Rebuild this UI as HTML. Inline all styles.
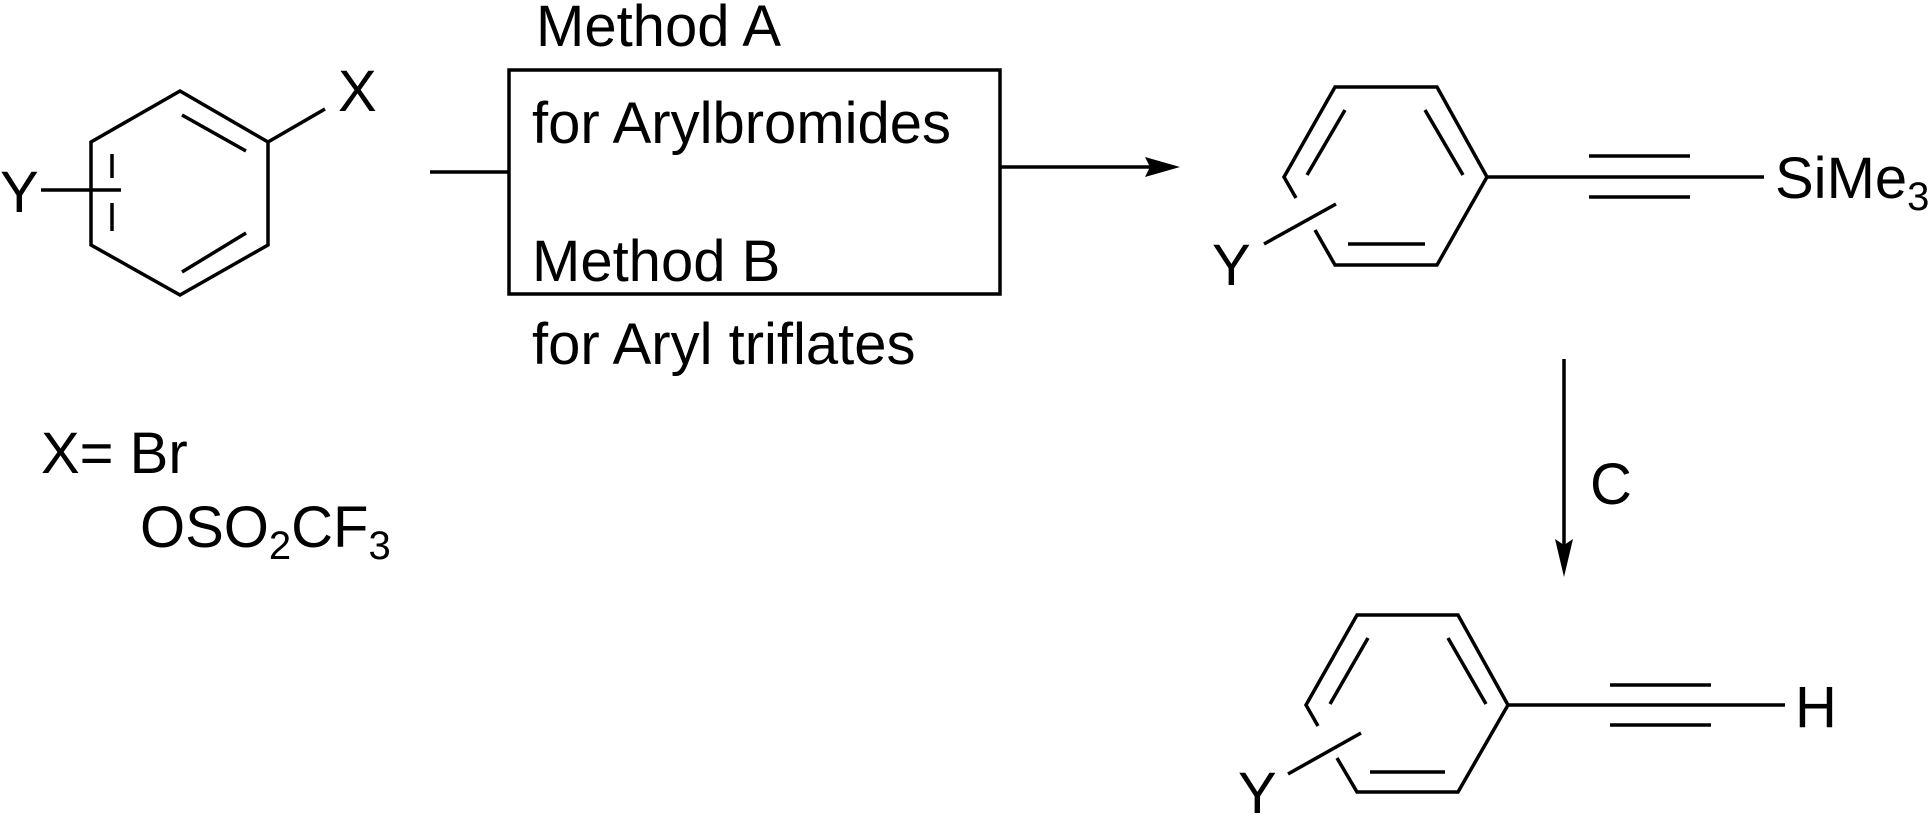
<!DOCTYPE html>
<html><head><meta charset="utf-8"><style>
html,body{margin:0;padding:0;background:#fff;}
svg{display:block;}
text{font-family:"Liberation Sans",Arial,sans-serif;font-size:58px;fill:#000;}
</style></head><body>
<svg width="1929" height="814" viewBox="0 0 1929 814" xmlns="http://www.w3.org/2000/svg">
<g stroke="#000" stroke-width="3.5" fill="none">
<!-- ring 1 -->
<polygon points="180,91 268,142 268,245 180,295 91,245 91,142"/>
<line x1="182" y1="115" x2="246" y2="151"/>
<line x1="246" y1="233" x2="182" y2="272"/>
<line x1="112" y1="154" x2="112" y2="178"/>
<line x1="112" y1="203" x2="112" y2="231"/>
<line x1="41" y1="190" x2="121" y2="190"/>
<line x1="268" y1="142" x2="325" y2="109"/>
<!-- box & arrow -->
<line x1="430" y1="172" x2="509" y2="172"/>
<rect x="509" y="70" width="491" height="224"/>
<line x1="1000" y1="167" x2="1160" y2="167"/>
<!-- ring 2 -->
<polyline points="1296,198 1284,177 1335,87 1437,87 1487,177 1437,265 1335,265 1315,230"/>
<line x1="1345" y1="110" x2="1307" y2="175"/>
<line x1="1425" y1="110" x2="1463" y2="175"/>
<line x1="1348" y1="244" x2="1425" y2="244"/>
<line x1="1264" y1="244" x2="1336" y2="204"/>
<line x1="1487" y1="177" x2="1764" y2="177"/>
<line x1="1589" y1="156" x2="1690" y2="156"/>
<line x1="1589" y1="197" x2="1690" y2="197"/>
<!-- vertical arrow -->
<line x1="1564" y1="359" x2="1564" y2="545"/>
<!-- ring 3 -->
<polyline points="1318,726 1306,705 1357,615 1458,615 1508,705 1458,792 1357,792 1337,758"/>
<line x1="1368" y1="638" x2="1330" y2="704"/>
<line x1="1448" y1="638" x2="1486" y2="704"/>
<line x1="1370" y1="772" x2="1445" y2="772"/>
<line x1="1288" y1="774" x2="1361" y2="733"/>
<line x1="1508" y1="705" x2="1785" y2="705"/>
<line x1="1610" y1="685" x2="1711" y2="685"/>
<line x1="1610" y1="725" x2="1711" y2="725"/>
</g>
<polygon points="1180,167 1145,157 1150,167 1145,177" fill="#000"/>
<polygon points="1564,577 1555,539 1564,545 1573,539" fill="#000"/>
<text x="0" y="212">Y</text>
<text x="338" y="111">X</text>
<text x="536" y="46">Method A</text>
<text x="532" y="143">for Arylbromides</text>
<text x="532" y="281">Method B</text>
<text x="532" y="364">for Aryl triflates</text>
<text x="41" y="473">X= Br</text>
<text x="140" y="547">OSO<tspan font-size="40" dy="12">2</tspan><tspan dy="-12">CF</tspan><tspan font-size="40" dy="12">3</tspan></text>
<text x="1212" y="285">Y</text>
<text x="1775" y="198">SiMe<tspan font-size="40" dy="12">3</tspan></text>
<text x="1590" y="504">C</text>
<text x="1795" y="727">H</text>
<text x="1238" y="813">Y</text>
</svg>
</body></html>
